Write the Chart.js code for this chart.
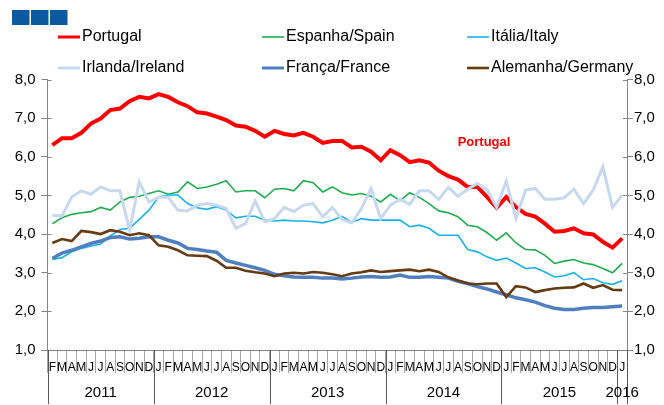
<!DOCTYPE html>
<html>
<head>
<meta charset="utf-8">
<script src="https://cdn.jsdelivr.net/npm/chart.js@4/dist/chart.umd.min.js"></script>
<style>
  html, body { margin: 0; padding: 0; background: #fff; }
  #wrap { position: relative; width: 664px; height: 405px; }
</style>
</head>
<body>
<div id="wrap"><canvas id="chart"></canvas></div>
<script>
// meses de Fev 2011 a Jan 2016
const months = ['F','M','A','M','J','J','A','S','O','N','D',
  'J','F','M','A','M','J','J','A','S','O','N','D',
  'J','F','M','A','M','J','J','A','S','O','N','D',
  'J','F','M','A','M','J','J','A','S','O','N','D',
  'J','F','M','A','M','J','J','A','S','O','N','D',
  'J'];
const yearLabels = ['2011', '2012', '2013', '2014', '2015', '2016'];
const yearStarts = [0, 11, 23, 35, 47, 59];

const portugal = [6.30, 6.48, 6.48, 6.62, 6.86, 6.99, 7.21, 7.25, 7.44, 7.55,
  7.51, 7.62, 7.55, 7.41, 7.31, 7.15, 7.12, 7.04, 6.95, 6.81,
  6.78, 6.67, 6.52, 6.67, 6.59, 6.55, 6.62, 6.52, 6.36, 6.41,
  6.41, 6.24, 6.26, 6.13, 5.91, 6.17, 6.04, 5.86, 5.91, 5.85,
  5.64, 5.50, 5.41, 5.22, 5.22, 4.96, 4.68, 4.96, 4.70, 4.52,
  4.45, 4.27, 4.06, 4.08, 4.15, 4.02, 3.99, 3.80, 3.65, 3.89];
const espanha = [4.27, 4.42, 4.51, 4.55, 4.58, 4.69, 4.62, 4.83, 4.95, 4.98,
  5.05, 5.12, 5.03, 5.09, 5.35, 5.18, 5.22, 5.29, 5.38, 5.09,
  5.12, 5.12, 4.94, 5.16, 5.18, 5.12, 5.38, 5.33, 5.09, 5.22,
  5.07, 5.01, 5.05, 4.98, 4.83, 5.03, 4.86, 5.07, 4.95, 4.79,
  4.60, 4.55, 4.45, 4.23, 4.19, 4.04, 3.84, 4.03, 3.77, 3.60,
  3.59, 3.45, 3.24, 3.30, 3.34, 3.25, 3.21, 3.11, 3.00, 3.24];
const italia = [3.34, 3.39, 3.54, 3.63, 3.69, 3.74, 3.95, 4.12, 4.15, 4.38,
  4.62, 4.96, 5.01, 5.01, 4.79, 4.68, 4.64, 4.71, 4.62, 4.42,
  4.46, 4.46, 4.36, 4.34, 4.36, 4.34, 4.34, 4.32, 4.29, 4.36,
  4.46, 4.30, 4.40, 4.36, 4.36, 4.36, 4.36, 4.19, 4.23, 4.15,
  3.97, 3.97, 3.97, 3.60, 3.54, 3.41, 3.32, 3.38, 3.25, 3.11,
  3.13, 3.02, 2.89, 2.92, 3.00, 2.82, 2.85, 2.74, 2.70, 2.79];
const irlanda = [4.49, 4.47, 4.96, 5.12, 5.03, 5.22, 5.12, 5.12, 4.10, 5.35,
  4.83, 4.95, 4.95, 4.62, 4.60, 4.75, 4.79, 4.75, 4.66, 4.15,
  4.27, 4.86, 4.32, 4.40, 4.69, 4.58, 4.75, 4.79, 4.45, 4.69,
  4.38, 4.29, 4.66, 5.18, 4.40, 4.75, 4.90, 4.77, 5.12, 5.12,
  4.90, 5.21, 4.98, 5.16, 5.31, 5.15, 4.69, 5.37, 4.40, 5.14,
  5.18, 4.90, 4.90, 4.94, 5.16, 4.79, 5.14, 5.74, 4.69, 5.01];
const franca = [3.37, 3.51, 3.58, 3.67, 3.76, 3.82, 3.91, 3.93, 3.87, 3.89,
  3.93, 3.93, 3.84, 3.77, 3.63, 3.60, 3.56, 3.53, 3.32, 3.25,
  3.19, 3.13, 3.06, 2.96, 2.92, 2.89, 2.88, 2.88, 2.86, 2.86,
  2.84, 2.86, 2.89, 2.90, 2.88, 2.89, 2.94, 2.88, 2.88, 2.90,
  2.88, 2.86, 2.78, 2.72, 2.64, 2.58, 2.50, 2.43, 2.35, 2.30,
  2.24, 2.15, 2.08, 2.05, 2.05, 2.08, 2.10, 2.10, 2.12, 2.14];
const alemanha = [3.77, 3.87, 3.82, 4.08, 4.05, 4.00, 4.10, 4.06, 3.97, 4.02,
  3.97, 3.71, 3.67, 3.58, 3.45, 3.44, 3.43, 3.31, 3.13, 3.13,
  3.05, 3.01, 2.98, 2.91, 2.98, 3.00, 2.98, 3.02, 3.00, 2.96,
  2.91, 2.98, 3.01, 3.06, 3.02, 3.04, 3.06, 3.08, 3.04, 3.08,
  3.02, 2.88, 2.80, 2.72, 2.70, 2.72, 2.72, 2.37, 2.65, 2.62,
  2.50, 2.55, 2.59, 2.61, 2.62, 2.72, 2.61, 2.68, 2.56, 2.55];

const FONT = '"Liberation Sans", Arial, sans-serif';

// linhas como no Excel: a ultima serie fica por cima
const series = [
  { label: 'Portugal', data: portugal, color: '#ff0000', width: 4 },
  { label: 'Espanha/Spain', data: espanha, color: '#1fae4f', width: 1.6 },
  { label: 'Itália/Italy', data: italia, color: '#17b2ee', width: 1.6 },
  { label: 'Irlanda/Ireland', data: irlanda, color: '#c6d9f1', width: 3 },
  { label: 'França/France', data: franca, color: '#4f7fbf', width: 3.5 },
  { label: 'Alemanha/Germany', data: alemanha, color: '#663b12', width: 2.6 }
];

const datasets = series.map((s, i) => ({
  label: s.label,
  data: s.data,
  borderColor: s.color,
  backgroundColor: s.color,
  borderWidth: s.width,
  pointRadius: 0,
  tension: 0,
  fill: false,
  order: series.length - i
}));

const legendPos = [
  [58, 37], [262, 37], [467, 37],
  [58, 68], [262, 68], [467, 68]
];

const extras = {
  id: 'extras',
  afterDraw(chart) {
    const c = chart.ctx;
    const xs = chart.scales.x;
    const yl = chart.scales.y;
    const yr = chart.scales.y2;
    c.save();

    // quadrados do topo
    c.fillStyle = '#0b5aa0';
    [12, 31, 50].forEach(x => c.fillRect(x, 10, 17.5, 15));

    // legenda
    c.font = '16px ' + FONT;
    c.textBaseline = 'middle';
    c.textAlign = 'left';
    series.forEach((s, i) => {
      const [x, y] = legendPos[i];
      c.strokeStyle = s.color;
      c.lineWidth = Math.min(s.width, 3);
      c.beginPath();
      c.moveTo(x, y);
      c.lineTo(x + 22, y);
      c.stroke();
      c.fillStyle = '#000';
      c.fillText(s.label, x + 24, y);
    });

    // anotacao
    c.font = 'bold 13px ' + FONT;
    c.fillStyle = '#ff0000';
    c.textAlign = 'center';
    c.fillText('Portugal', 484, 142);

    // marcas do eixo y para dentro
    c.strokeStyle = '#868686';
    c.lineWidth = 1;
    yl.ticks.forEach(t => {
      const y = Math.round(yl.getPixelForValue(t.value)) + 0.5;
      c.beginPath(); c.moveTo(yl.right, y); c.lineTo(yl.right + 4, y); c.stroke();
      c.beginPath(); c.moveTo(yr.left - 4, y); c.lineTo(yr.left, y); c.stroke();
    });

    // anos
    const w = xs.width / months.length;
    const edge = i => xs.getPixelForValue(i) - w / 2;
    c.strokeStyle = '#595959';
    const bounds = yearStarts.concat([months.length]);
    bounds.forEach(i => {
      const x = Math.round(edge(i)) + 0.5;
      c.beginPath(); c.moveTo(x, xs.top); c.lineTo(x, 404); c.stroke();
    });
    c.font = '15px ' + FONT;
    c.fillStyle = '#000';
    c.textAlign = 'center';
    yearLabels.forEach((yl2, k) => {
      const x = (edge(bounds[k]) + edge(bounds[k + 1])) / 2;
      c.fillText(yl2, x, 393);
    });
    c.restore();
  }
};

const yTick = v => v.toFixed(1).replace('.', ',');

new Chart(document.getElementById('chart'), {
  type: 'line',
  data: { labels: months, datasets: datasets },
  options: {
    responsive: true,
    maintainAspectRatio: false,
    animation: false,
    layout: { padding: { top: 79.5, left: 0, right: 0, bottom: 0 } },
    plugins: { legend: { display: false }, tooltip: { enabled: false } },
    scales: {
      x: {
        type: 'category',
        offset: true,
        grid: { display: true, drawOnChartArea: false, offset: true, tickLength: 23, color: '#a6a6a6', lineWidth: 1 },
        border: { display: true, color: '#868686' },
        ticks: { autoSkip: false, maxRotation: 0, minRotation: 0, padding: -13, color: '#000', font: { family: FONT, size: 12 } },
        afterFit: s => { s.height = 55; }
      },
      y: {
        position: 'left',
        min: 1, max: 8,
        ticks: { stepSize: 1, callback: yTick, padding: 6, color: '#000', font: { family: FONT, size: 15 } },
        grid: { drawOnChartArea: false, tickLength: 6, color: '#868686' },
        border: { display: true, color: '#868686' },
        afterFit: s => { s.width = 47.5; }
      },
      y2: {
        position: 'right',
        min: 1, max: 8,
        ticks: { stepSize: 1, callback: yTick, padding: 1, color: '#000', font: { family: FONT, size: 15 } },
        grid: { drawOnChartArea: false, tickLength: 6, color: '#868686' },
        border: { display: true, color: '#868686' },
        afterFit: s => { s.width = 37; }
      }
    }
  },
  plugins: [extras]
});
</script>
</body>
</html>
